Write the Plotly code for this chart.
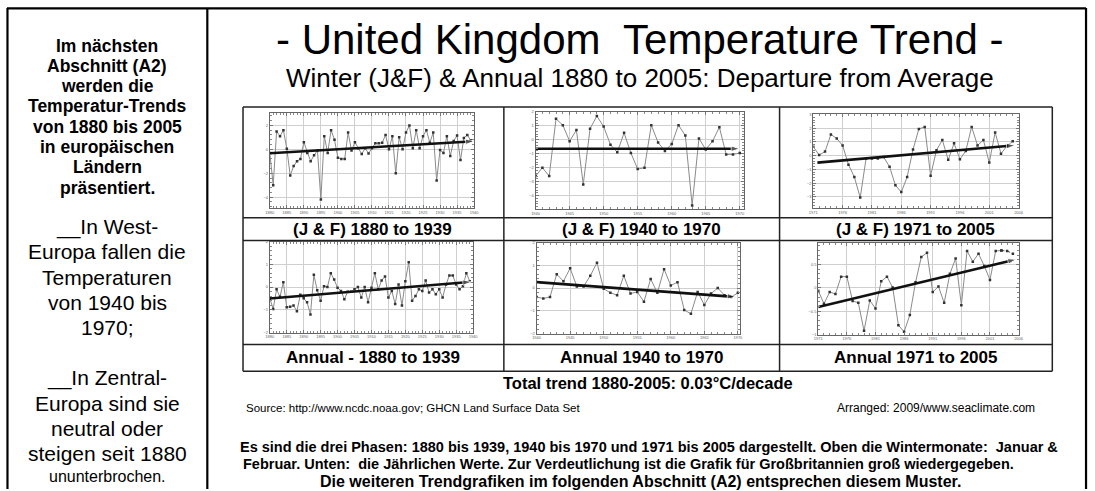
import plotly.graph_objects as go

W, H = 1095, 491

# ---------------- data ----------------
years_early = list(range(1880, 1940))
years_mid = list(range(1940, 1971))
years_late = list(range(1971, 2006))

jf_early = [-0.3, -3.0, 1.5, 1.1, 1.6, 0.05, -2.2, -1.4, -1.0, -0.8,
            0.6, -0.3, -1.0, -0.5, -0.1, -4.2, 1.1, -0.3, 1.6, 0.8,
            -0.7, -0.8, -0.8, 1.4, -0.1, 0.6, 0.1, -0.4, 0.1, -0.35,
            0.1, 0.5, 0.5, 0.55, 1.2, 0.0, 1.1, -2.0, 1.0, 0.0,
            1.4, 2.0, 0.1, 1.6, 0.1, 1.1, 1.6, 0.55, 1.4, -2.6,
            -0.05, -0.3, 1.1, -0.55, 0.7, 1.15, -0.9, 0.95, 1.2, 0.75]
jf_mid = [-2.6, -2.0, -2.6, 1.5, 1.05, -0.1, 0.7, -3.2, 0.8, 1.7,
          0.95, -0.35, -0.9, 0.5, -0.95, -2.1, -2.0, 1.05, -0.2, -0.8,
          -0.3, 1.05, 0.3, -4.7, 0.1, -0.7, -0.1, 0.9, -1.05, -1.05, -0.95]
jf_late = [0.65, 0.05, 0.3, 1.55, 1.25, 0.75, -0.65, -1.55, -3.05, -0.2,
           -0.2, -0.2, -0.1, -0.8, -2.15, -2.65, -1.55, 0.45, 1.95, 2.1,
           -1.45, 0.4, 1.15, -0.3, 0.9, -0.25, 0.35, 2.1, 0.75, 1.15,
           -0.5, 1.7, 0.15, 0.7, 1.05]
ann_early = [-0.5, -0.96, -0.1, -0.43, 0.21, -0.89, -0.86, -0.81, -1.06, -0.34,
             -0.49, -0.67, -1.2, 0.54, -0.14, -0.6, 0.04, 0.0, 0.61, 0.33,
             -0.03, -0.17, -0.53, -0.2, -0.21, -0.1, 0.0, -0.46, 0.0, -0.67,
             -0.03, 0.61, -0.1, 0.29, 0.47, -0.46, -0.17, -0.74, 0.11, -0.81,
             0.26, 1.09, -0.6, -0.39, -0.1, -0.17, 0.29, -0.24, -0.1, -0.31,
             -0.1, -0.46, 0.11, 0.51, 0.51, 0.11, -0.1, 0.04, 0.61, 0.26]
ann_mid = [-0.39, -0.46, -0.39, 0.61, 0.3, 0.87, 0.07, 0.07, 0.54, 1.11,
           -0.03, -0.21, -0.31, 0.54, -0.24, -0.17, -0.6, 0.4, -0.21, 0.83,
           0.11, 0.26, -0.96, -1.13, -0.17, -0.74, -0.24, 0.0, -0.31, -0.39, -0.21]
ann_late = [-0.06, -0.34, -0.09, -0.13, 0.24, 0.24, -0.28, -0.32, -0.92, -0.27,
            -0.44, 0.14, 0.24, 0.01, -0.8, -0.94, -0.58, 0.12, 0.66, 0.75,
            -0.09, 0.03, -0.32, 0.3, 0.63, -0.37, 0.79, 0.56, 0.73, 0.47,
            0.17, 0.79, 0.8, 0.79, 0.73]

# trend lines (start / end)
jf_early_trend_x, jf_early_trend_y = [1880, 1940], [-0.33, 0.68]
jf_mid_trend_x, jf_mid_trend_y = [1940, 1970], [-0.64, -0.64]
jf_late_trend_x, jf_late_trend_y = [1971.7, 2005.4], [-0.5, 0.76]
ann_early_trend_x, ann_early_trend_y = [1880, 1939.5], [-0.5, 0.23]
ann_mid_trend_x, ann_mid_trend_y = [1940, 1969.7], [0.26, -0.39]
ann_late_trend_x, ann_late_trend_y = [1971, 2005.6], [-0.41, 0.61]

panel_labels = ["(J & F) 1880 to 1939", "(J & F) 1940 to 1970", "(J & F) 1971 to 2005",
                "Annual - 1880 to 1939", "Annual 1940 to 1970", "Annual 1971 to 2005"]

left_bold = ["Im nächsten", "Abschnitt (A2)", "werden die", "Temperatur-Trends",
             "von 1880 bis 2005", "in europäischen", "Ländern", "präsentiert."]
left_west = ["__In West-", "Europa fallen die", "Temperaturen", "von 1940 bis", "1970;"]
left_central = ["__In Zentral-", "Europa sind sie", "neutral oder", "steigen seit 1880"]
left_last = "ununterbrochen."

title = "- United Kingdom  Temperature Trend -"
subtitle = "Winter (J&F) & Annual 1880 to 2005: Departure from Average"
total_trend = "Total trend 1880-2005: 0.03°C/decade"
source = "Source: http://www.ncdc.noaa.gov; GHCN Land Surface Data Set"
arranged = "Arranged: 2009/www.seaclimate.com"
note1 = "Es sind die drei Phasen: 1880 bis 1939, 1940 bis 1970 und 1971 bis 2005 dargestellt. Oben die Wintermonate:  Januar &"
note2 = "Februar. Unten:  die Jährlichen Werte. Zur Verdeutlichung ist die Grafik für Großbritannien groß wiedergegeben."
note3 = "Die weiteren Trendgrafiken im folgenden Abschnitt (A2) entsprechen diesem Muster."

# ---------------- helpers ----------------
def px(x):
    return x / W

def py(y):
    return 1 - y / H

FONT = "Liberation Sans, Arial, sans-serif"

fig = go.Figure()

panels = [
    (years_early, jf_early, jf_early_trend_x, jf_early_trend_y, (268, 474, 111, 207), [-4.9, 3.05], 2, [1880, 1940], 1880),
    (years_mid, jf_mid, jf_mid_trend_x, jf_mid_trend_y, (536, 746, 110, 208), [-4.95, 2.0], 1, [1940, 1970.6], 1940),
    (years_late, jf_late, jf_late_trend_x, jf_late_trend_y, (816, 1023, 112, 207), [-3.8, 3.05], 1, [1971, 2006], 1971),
    (years_early, ann_early, ann_early_trend_x, ann_early_trend_y, (268, 473, 241, 333), [-2.0, 2.0], 1, [1880, 1940], 1880),
    (years_mid, ann_mid, ann_mid_trend_x, ann_mid_trend_y, (537, 742, 242, 334), [-2.0, 2.0], 1, [1940, 1970.3], 1940),
    (years_late, ann_late, ann_late_trend_x, ann_late_trend_y, (821, 1023, 242, 335), [-1.0, 0.97], 0.5, [1971, 2006], 1971),
]

layout_axes = {}
for i, (xs, ys, tx, ty, box, yr, ydt, xr, xt0) in enumerate(panels):
    n = i + 1
    xa = "x" if n == 1 else f"x{n}"
    ya = "y" if n == 1 else f"y{n}"
    x0, x1, y0, y1 = box
    solid_end = len(xs) if i != 5 else len(xs) - 2
    fig.add_trace(go.Scatter(
        x=xs[:solid_end], y=ys[:solid_end], xaxis=xa, yaxis=ya, mode="lines+markers",
        line=dict(color="#8a8a8a", width=1),
        marker=dict(symbol="square", size=2.5, color="#333333"),
        showlegend=False, hoverinfo="skip"))
    if i == 5:
        fig.add_trace(go.Scatter(
            x=xs[solid_end - 1:], y=ys[solid_end - 1:], xaxis=xa, yaxis=ya, mode="lines+markers",
            line=dict(color="#555555", width=1, dash="dot"),
            marker=dict(symbol="square", size=2.5, color="#333333"),
            showlegend=False, hoverinfo="skip"))
    fig.add_trace(go.Scatter(
        x=tx, y=ty, xaxis=xa, yaxis=ya, mode="lines+markers",
        line=dict(color="#111111", width=2.6),
        marker=dict(symbol=["circle", "arrow"], size=[0, 9], angleref="previous", color="#111111"),
        showlegend=False, hoverinfo="skip"))
    common = dict(showgrid=True, gridcolor="#cfcfcf", gridwidth=1, zeroline=False,
                  showline=True, linecolor="#666666", linewidth=1, mirror="allticks",
                  ticks="inside", ticklen=3, tickcolor="#777777",
                  tickfont=dict(size=4, color="#666666", family=FONT), fixedrange=True)
    layout_axes["xaxis" if n == 1 else f"xaxis{n}"] = dict(
        domain=[px(x0), px(x1)], range=xr, dtick=5, tick0=xt0, anchor=ya,
        minor=dict(ticks="inside", ticklen=2, tickcolor="#888888", dtick=1, showgrid=False),
        **common)
    layout_axes["yaxis" if n == 1 else f"yaxis{n}"] = dict(
        domain=[py(y1), py(y0)], range=yr, dtick=ydt, tick0=0, anchor=xa,
        minor=dict(ticks="inside", ticklen=2, tickcolor="#888888", dtick=ydt / 5, showgrid=False),
        **common)

# ---------------- frame / table lines ----------------
shapes = []
def hline(x0, x1, y, w=1.5, c="#222222"):
    shapes.append(dict(type="line", xref="paper", yref="paper", x0=px(x0), x1=px(x1),
                       y0=py(y), y1=py(y), line=dict(color=c, width=w)))
def vline(x, y0, y1, w=1.5, c="#222222"):
    shapes.append(dict(type="line", xref="paper", yref="paper", x0=px(x), x1=px(x),
                       y0=py(y0), y1=py(y1), line=dict(color=c, width=w)))

hline(3, 1091, 5.5, 2.2, "#000")
vline(3.5, 5, 491, 2.2, "#000")
vline(205, 5, 491, 2.2, "#000")
vline(1091, 5, 491, 2.2, "#000")
for yy in [105, 217, 240, 345, 372]:
    hline(241, 1057, yy, 1.5)
for xx in [241, 504, 782, 1057]:
    vline(xx, 105, 372, 1.5)

# ---------------- text ----------------
ann = []
def text(s, x, y, size, bold=False, anchor="center", family=FONT, color="#000"):
    ann.append(dict(text=f"<b>{s}</b>" if bold else s, x=px(x), y=py(y), xref="paper", yref="paper",
                    xanchor=anchor, yanchor="middle", showarrow=False,
                    font=dict(size=size, family=family, color=color)))

text(title, 641, 37, 42)
text(subtitle, 641, 76, 26)
centers = [372, 643, 919.5]
for j, lab in enumerate(panel_labels):
    text(lab, centers[j % 3], 228.5 if j < 3 else 358.5, 17, bold=True)
text(total_trend, 649, 384, 16.5, bold=True)
text(source, 242, 409, 11.5, anchor="left")
text(arranged, 1042, 409, 12, anchor="right")
text(note1, 236, 449, 14.5, bold=True, anchor="left")
text(note2, 239, 466, 14.5, bold=True, anchor="left")
text(note3, 642, 483, 16, bold=True)

for k, s in enumerate(left_bold):
    text(s, 104, 43 + 20.5 * k, 17.5, bold=True)
for k, s in enumerate(left_west):
    text(s, 104, 226 + 25.5 * k, 21)
for k, s in enumerate(left_central):
    text(s, 104, 379 + 25.5 * k, 21)
text(left_last, 104, 478, 16)

fig.update_layout(width=W, height=H, margin=dict(l=0, r=0, t=0, b=0), autosize=False,
                  paper_bgcolor="white", plot_bgcolor="white",
                  shapes=shapes, annotations=ann, **layout_axes)

fig.write_html("out.html", config={"displayModeBar": False, "staticPlot": True},
               post_script="document.body.style.margin='0';document.body.style.padding='0';"
                           "document.body.style.overflow='hidden';")
